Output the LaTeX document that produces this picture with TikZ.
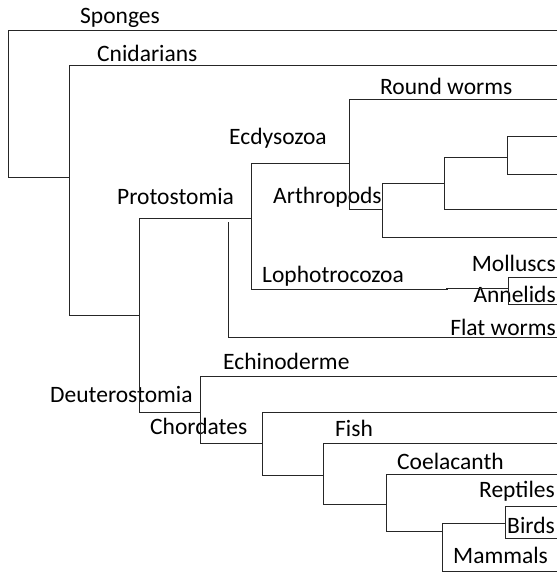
\documentclass[tikz,border=0pt]{standalone}
\usepackage{fontspec}
\setmainfont{Carlito}
\begin{document}
\begin{tikzpicture}[x=1bp,y=-1bp,
  br/.style={line width=0.9bp,draw=black!85},
  lbl/.style={inner sep=0pt,font=\fontsize{23.5bp}{28bp}\selectfont,text=black}]
\useasboundingbox (0,0) rectangle (559,573);
% labels
\node[lbl,anchor=base west] (sp) at (80,24) {Sponges};
\node[lbl,anchor=base west] (cn) at (97,62) {Cnidarians};
\node[lbl,anchor=base west] (ec) at (229,145) {Ecdysozoa};
\node[lbl,anchor=base west] (rw) at (380,95) {Round worms};
\node[lbl,anchor=base west] (pr) at (117,204) {Protostomia};
\node[lbl,anchor=base west] (ar) at (273,203) {Arthropods};
\node[lbl,anchor=base west] (lo) at (262,282) {Lophotrocozoa};
\node[lbl,anchor=base east] (mo) at (556,271) {Molluscs};
\node[lbl,anchor=base east] (an) at (556,302) {Annelids};
\node[lbl,anchor=base east] (fw) at (556,335) {Flat worms};
\node[lbl,anchor=base west] (eh) at (223,369) {Echinoderme};
\node[lbl,anchor=base west] (de) at (50,402) {Deuterostomia};
\node[lbl,anchor=base west] (ch) at (150,434) {Chordates};
\node[lbl,anchor=base west] (fi) at (335,436) {Fish};
\node[lbl,anchor=base west] (co) at (397,469) {Coelacanth};
\node[lbl,anchor=base east] (re) at (555,497) {Reptiles};
\node[lbl,anchor=base east] (bi) at (555,533) {Birds};
\node[lbl,anchor=base west] (ma) at (453,563) {Mammals};
% junction coordinates
\coordinate (r0) at (8,30);    \coordinate (r0b) at (8,177);
\coordinate (r1) at (69,65);   \coordinate (r1b) at (69,315);
\coordinate (r2) at (139,218); \coordinate (r2b) at (139,412);
\coordinate (p0) at (251,163); \coordinate (p0b) at (251,289);
\coordinate (fw0) at (228,222); \coordinate (fw1) at (228,337);
\coordinate (e0) at (349,99);  \coordinate (e0b) at (349,209);
\coordinate (e1) at (382,183); \coordinate (e1b) at (382,237);
\coordinate (e2) at (444,157); \coordinate (e2b) at (444,209);
\coordinate (e3) at (507,136); \coordinate (e3b) at (507,174);
\coordinate (l0) at (448,289); \coordinate (l1) at (446,288);
\coordinate (m0) at (508,277); \coordinate (m0b) at (508,304);
\coordinate (d0) at (200,376); \coordinate (d0b) at (200,443);
\coordinate (c0) at (262,412); \coordinate (c0b) at (262,475);
\coordinate (c1) at (323,443); \coordinate (c1b) at (323,504);
\coordinate (c2) at (386,474); \coordinate (c2b) at (386,531);
\coordinate (c3) at (442,523); \coordinate (c3b) at (442,571);
\coordinate (c4) at (505,506); \coordinate (c4b) at (505,538);
\def\R{557}
% tree
\draw[br] (\R,30) -- (r0) -- (r0b) -- (69,177);
\draw[br] (\R,65) -- (r1) -- (r1b) -- (r2b |- r1b);
\draw[br] (r2) -- (r2b) -- (d0 |- r2b);
\draw[br] (r2) -- (p0 |- r2);
\draw[br] (e0 |- p0) -- (p0) -- (p0b) -- (l0);
\draw[br] (l1) -- (m0 |- l1);
\draw[br] (fw0) -- (fw1) -- (\R,337);
\draw[br] (\R,99) -- (e0) -- (e0b) -- (e1 |- e0b);
\draw[br] (\R,237) -- (e1b) -- (e1) -- (e2 |- e1);
\draw[br] (\R,209) -- (e2b) -- (e2) -- (e3 |- e2);
\draw[br] (\R,136) -- (e3) -- (e3b) -- (\R,174);
\draw[br] (\R,277) -- (m0) -- (m0b) -- (\R,304);
\draw[br] (\R,376) -- (d0) -- (d0b) -- (c0 |- d0b);
\draw[br] (\R,412) -- (c0) -- (c0b) -- (c1 |- c0b);
\draw[br] (\R,443) -- (c1) -- (c1b) -- (c2 |- c1b);
\draw[br] (\R,474) -- (c2) -- (c2b) -- (c3 |- c2b);
\draw[br] (\R,571) -- (c3b) -- (c3) -- (c4 |- c3);
\draw[br] (\R,506) -- (c4) -- (c4b) -- (\R,538);
\end{tikzpicture}
\end{document}
